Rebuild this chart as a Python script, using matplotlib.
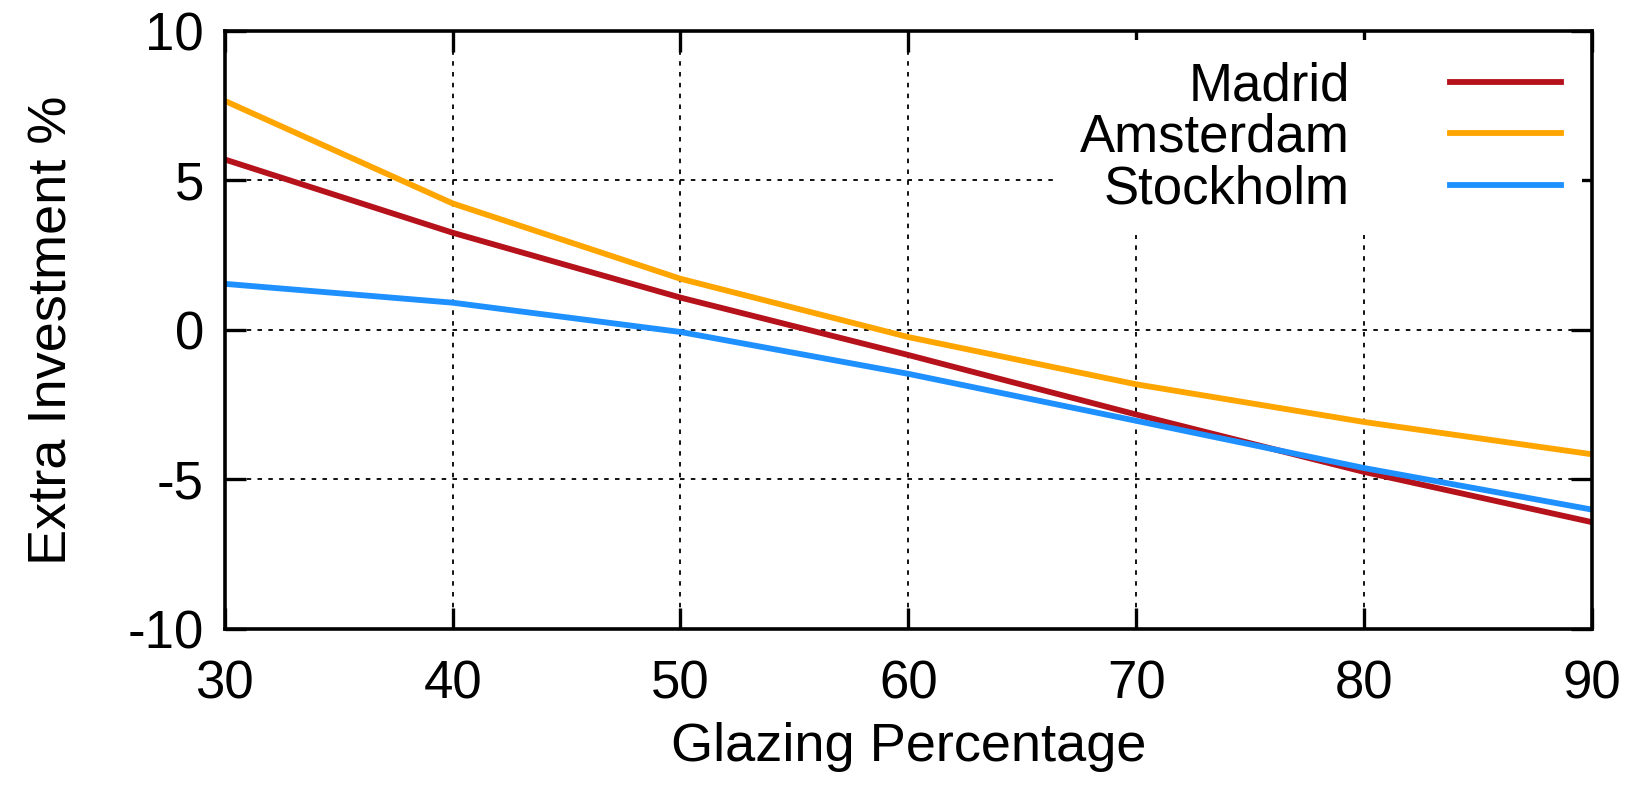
import matplotlib
matplotlib.use("Agg")
import matplotlib.pyplot as plt

# Data
glazing = [30, 40, 50, 60, 70, 80, 90]
madrid = [5.70, 3.25, 1.08, -0.84, -2.83, -4.75, -6.43]
amsterdam = [7.66, 4.23, 1.71, -0.24, -1.82, -3.08, -4.16]
stockholm = [1.54, 0.91, -0.07, -1.47, -3.04, -4.62, -6.01]

series = [("Madrid", madrid, "#b5121b"),
          ("Amsterdam", amsterdam, "#ffa500"),
          ("Stockholm", stockholm, "#1e90ff")]

xticks = [30, 40, 50, 60, 70, 80, 90]
yticks = [-10, -5, 0, 5, 10]

plt.rcParams['font.family'] = ['Liberation Sans', 'DejaVu Sans']

fig = plt.figure(figsize=(16.41, 7.93), dpi=100)
ax = fig.add_axes([0.137, 0.207, 0.833, 0.754])

for name, values, color in series:
    ax.plot(glazing, values, color=color, lw=4.2, label=name)

ax.set_xlim(30, 90)
ax.set_ylim(-10, 10)
ax.set_xticks(xticks)
ax.set_yticks(yticks)
ax.set_yticklabels([str(v) for v in yticks])

# Gnuplot-like look: inward ticks on all sides, dotted grid
ax.tick_params(direction='in', length=15, width=2.4, labelsize=38,
               top=True, right=True)
ax.tick_params(axis='x', pad=22)
ax.tick_params(axis='y', pad=15)
ax.grid(True, color='black', linestyle=(0, (2.5, 3.5)), linewidth=1.3)
for sp in ax.spines.values():
    sp.set_linewidth(2.6)

ax.set_xlabel('Glazing Percentage', fontsize=39, labelpad=9)
ax.set_ylabel('Extra Investment %', fontsize=39, labelpad=36)

leg = ax.legend(loc='upper right', markerfirst=False, fontsize=38,
                frameon=True, framealpha=1, facecolor='white',
                edgecolor='none', fancybox=False, handlelength=2.1,
                handletextpad=1.9, labelspacing=0.03,
                borderaxespad=0.0, bbox_to_anchor=(0.993, 0.985))

fig.savefig('out.png', dpi=100)
